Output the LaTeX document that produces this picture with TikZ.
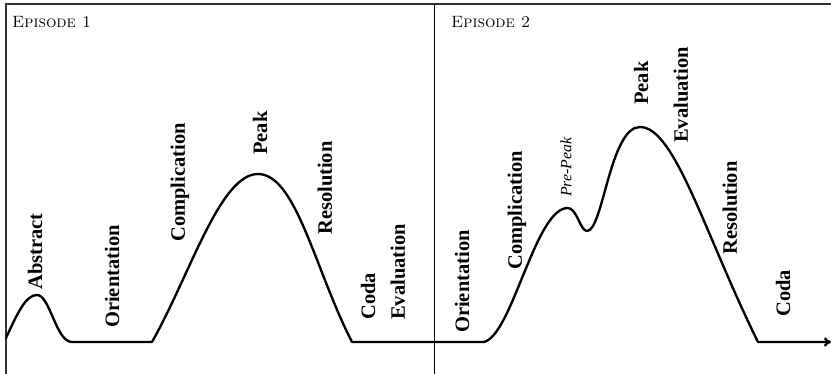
\documentclass[tikz,border=0pt]{standalone}
\usepackage{fontspec}
\newfontfamily\labelfont{Liberation Serif}
\usetikzlibrary{arrows.meta,positioning}

\tikzset{
  phase/.style={rotate=90, anchor=west, inner sep=0pt,
    font=\labelfont\fontsize{17.5}{20}\selectfont\bfseries},
  prepeak/.style={rotate=90, anchor=west, inner sep=0pt,
    font=\labelfont\fontsize{13.5}{16}\selectfont\itshape},
  episode/.style={anchor=base west, inner sep=0pt,
    font=\fontsize{14}{16}\selectfont\scshape},
  frameline/.style={line width=1.1pt, black!80},
  arc/.style={line width=2pt, line cap=round, line join=round}
}

\begin{document}
\begin{tikzpicture}[x=0.03cm, y=-0.03cm]
  \useasboundingbox (0,0) rectangle (831,374);

  % frame
  \draw[frameline] (6,374) -- (6,4) -- (831,4);
  \draw[line width=0.8pt] (434,4) -- (434,374);

  \node[episode] (ep1) at (12,28) {Episode \oldstylenums{1}};
  \node[episode] (ep2) at (451,28) {Episode \oldstylenums{2}};

  % the narrative arc
  \draw[arc, -{To[length=6pt, width=8pt]}]
  (6,338) .. controls (18,312) and (26,295) .. (37,295)
  .. controls (50,295) and (56,342) .. (72,342)
  -- (152,342)
  .. controls (190,275) and (220,174) .. (258,174)
  .. controls (296,174) and (315,270) .. (352,342)
  -- (484,342)
  .. controls (512,335) and (535,210) .. (567,208)
  .. controls (577,207) and (580,231) .. (587,231)
  .. controls (603,231) and (610,127) .. (640,127)
  .. controls (675,127) and (705,235) .. (758,342)
  -- (831,342);

  % episode 1
  \node[phase] (abs1) at (35,290) {Abstract};
  \node[phase] (ori1) at (112,328) {Orientation};
  \node[phase] (com1) at (180,242) {Complication};
  \node[phase] (pk1) at (260,155) {Peak};
  \node[phase] (res1) at (325,235) {Resolution};
  \node[phase] (coda1) at (368,320) {Coda};
  \node[phase] (eva1) at (398,320) {Evaluation};

  % episode 2
  \node[phase] (ori2) at (462,333) {Orientation};
  \node[phase] (com2) at (517,270) {Complication};
  \node[prepeak] (pre2) at (566,197) {Pre-Peak};
  \node[phase] (pk2) at (641,105) {Peak};
  \node[phase] (eva2) at (681,143) {Evaluation};
  \node[phase] (res2) at (730,255) {Resolution};
  \node[phase] (coda2) at (783,317) {Coda};
\end{tikzpicture}
\end{document}
